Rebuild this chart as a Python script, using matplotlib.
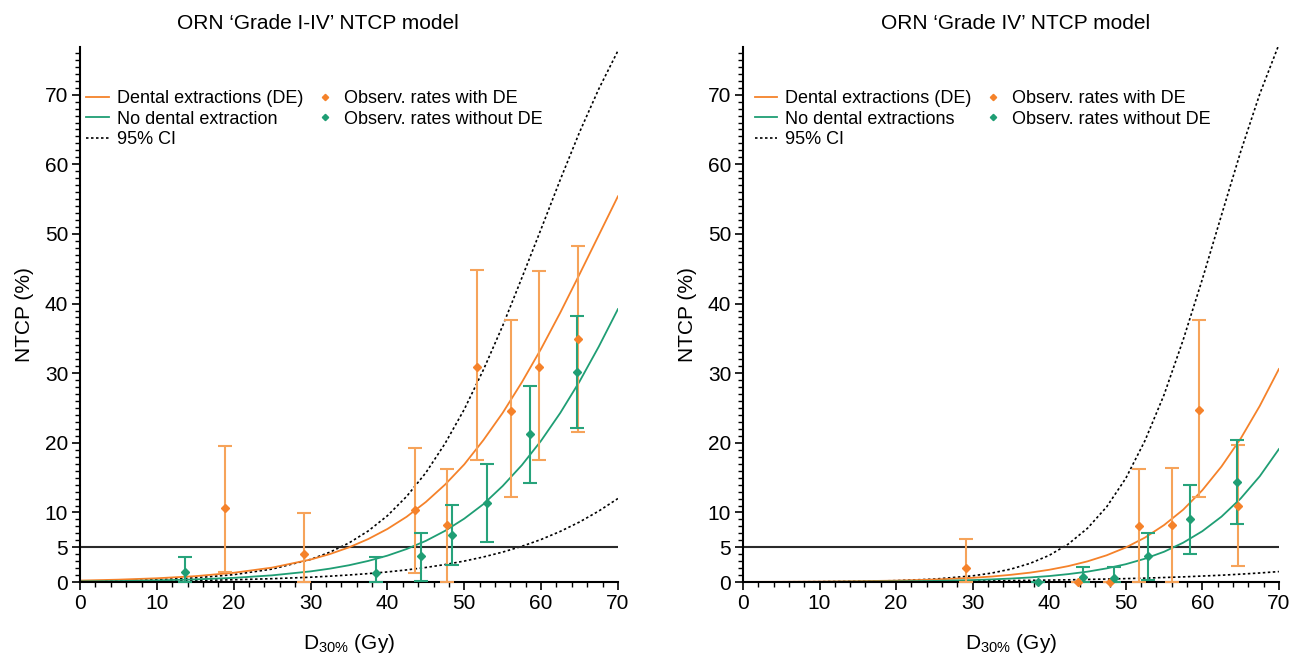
import matplotlib
matplotlib.use('Agg')
import matplotlib.pyplot as plt
from matplotlib.ticker import FixedLocator, MultipleLocator

plt.rcParams['font.family'] = ['Liberation Sans', 'DejaVu Sans']
plt.rcParams['mathtext.default'] = 'regular'

# dose grid (Gy) the model curves were read at
dose = [0, 5, 10, 15, 20, 25, 30, 32.5, 35, 37.5, 40, 42.5, 45, 47.5,
        50, 52.5, 55, 57.5, 60, 62.5, 65, 67.5, 70]

# Grade I-IV model curves (NTCP %)
g14_de = [0.22, 0.35, 0.55, 0.85, 1.34, 2.08, 3.24, 4.02, 4.99, 6.18, 7.63, 9.38,
          11.5, 14.0, 16.9, 20.4, 24.3, 28.7, 33.5, 38.7, 44.2, 49.8, 55.4]
g14_node = [0.10, 0.15, 0.24, 0.39, 0.61, 0.97, 1.54, 1.93, 2.42, 3.04, 3.80, 4.75,
            5.92, 7.36, 9.11, 11.2, 13.8, 16.8, 20.3, 24.3, 28.8, 33.8, 39.2]
g14_ci_hi = [0.11, 0.19, 0.34, 0.61, 1.07, 1.87, 3.26, 4.29, 5.62, 7.34, 9.53, 12.3,
             15.7, 19.9, 24.8, 30.5, 36.8, 43.7, 50.7, 57.8, 64.6, 70.8, 76.3]
g14_ci_lo = [0.08, 0.11, 0.16, 0.23, 0.34, 0.49, 0.70, 0.85, 1.02, 1.22, 1.46, 1.75,
             2.10, 2.52, 3.02, 3.61, 4.31, 5.14, 6.12, 7.28, 8.63, 10.2, 12.0]

# Grade IV model curves (NTCP %)
g4_de = [0.03, 0.04, 0.07, 0.13, 0.21, 0.36, 0.62, 0.80, 1.05, 1.36, 1.77, 2.30,
         2.98, 3.85, 4.97, 6.39, 8.19, 10.4, 13.2, 16.6, 20.6, 25.3, 30.6]
g4_node = [0.01, 0.02, 0.03, 0.06, 0.10, 0.17, 0.29, 0.39, 0.51, 0.67, 0.87, 1.15,
           1.50, 1.97, 2.57, 3.36, 4.36, 5.66, 7.31, 9.40, 12.0, 15.2, 19.1]
g4_ci_hi = [0.01, 0.02, 0.05, 0.10, 0.21, 0.43, 0.90, 1.30, 1.87, 2.69, 3.84, 5.47,
            7.73, 10.8, 14.9, 20.3, 26.9, 34.8, 43.5, 52.7, 61.8, 70.1, 77.2]
g4_ci_lo = [0.03, 0.04, 0.05, 0.07, 0.10, 0.13, 0.17, 0.19, 0.22, 0.25, 0.29, 0.33,
            0.38, 0.44, 0.50, 0.57, 0.66, 0.75, 0.87, 0.99, 1.14, 1.31, 1.51]

# observed rates, Grade I-IV
g14_obs_de_x = [18.9, 29.1, 43.6, 47.8, 51.7, 56.1, 59.7, 64.8]
g14_obs_de_y = [10.6, 4.1, 10.4, 8.2, 30.9, 24.6, 30.9, 34.9]
g14_obs_de_lo = [1.5, 0.0, 1.3, 0.0, 17.6, 12.2, 17.6, 21.6]
g14_obs_de_hi = [19.6, 9.9, 19.3, 16.3, 44.8, 37.6, 44.7, 48.3]

g14_obs_no_x = [13.7, 38.5, 44.4, 48.4, 53.0, 58.5, 64.7]
g14_obs_no_y = [1.5, 1.3, 3.7, 6.8, 11.4, 21.3, 30.2]
g14_obs_no_lo = [0.0, 0.0, 0.2, 2.4, 5.8, 14.2, 22.2]
g14_obs_no_hi = [3.6, 3.6, 7.0, 11.1, 16.9, 28.2, 38.2]

# observed rates, Grade IV
g4_obs_de_x = [29.1, 43.7, 47.9, 51.7, 56.0, 59.6, 64.7]
g4_obs_de_y = [2.0, 0.0, 0.0, 8.1, 8.2, 24.7, 10.9]
g4_obs_de_lo = [0.0, 0.0, 0.0, 0.0, 0.0, 12.2, 2.3]
g4_obs_de_hi = [6.2, 0.0, 0.0, 16.3, 16.4, 37.6, 19.7]

g4_obs_no_x = [38.5, 44.4, 48.4, 52.9, 58.4, 64.5]
g4_obs_no_y = [0.0, 0.7, 0.6, 3.7, 9.0, 14.4]
g4_obs_no_lo = [0.0, 0.0, 0.0, 0.3, 4.0, 8.3]
g4_obs_no_hi = [0.0, 2.1, 2.1, 7.1, 14.0, 20.4]

ORANGE = '#f5822a'
ORANGE_ERR = '#f6a35a'
GREEN = '#1f9e74'
GREEN_ERR = '#27a37b'
DOTS = (0, (1.5, 1.5))


def panel(ax, title, title_x, leg_x, de, node, ci_hi, ci_lo, ode, ono, node_label):
    ax.plot(dose, ci_hi, color='black', lw=1.2, ls=DOTS, label='95% CI')
    ax.plot(dose, ci_lo, color='black', lw=1.2, ls=DOTS)
    ax.axhline(5, color='#2a2a2a', lw=1.5, zorder=2)
    ax.plot(dose, de, color=ORANGE, lw=1.3, label='Dental extractions (DE)')
    ax.plot(dose, node, color=GREEN, lw=1.3, label=node_label)

    for (xs, ys, lo, hi), c, ce, lab in [(ode, ORANGE, ORANGE_ERR, 'Observ. rates with DE'),
                                        (ono, GREEN, GREEN_ERR, 'Observ. rates without DE')]:
        err = [[y - l for y, l in zip(ys, lo)], [h - y for y, h in zip(ys, hi)]]
        eb = ax.errorbar(xs, ys, yerr=err, fmt='none', ecolor=ce, elinewidth=1.5,
                         capsize=5, capthick=1.5, zorder=4)
        for part in eb.lines[1] + eb.lines[2]:
            part.set_clip_on(False)
        ax.plot(xs, ys, 'D', color=c, ms=4, ls='none', label=lab, clip_on=False, zorder=5)

    ax.set_xlim(0, 70)
    ax.set_ylim(0, 76.8)
    ax.yaxis.set_major_locator(FixedLocator([0, 5, 10, 20, 30, 40, 50, 60, 70]))
    ax.yaxis.set_minor_locator(MultipleLocator(1))
    ax.xaxis.set_major_locator(MultipleLocator(10))
    ax.xaxis.set_minor_locator(MultipleLocator(2))
    ax.tick_params(which='major', length=6, width=1.2, labelsize=15, pad=2.5, colors='black')
    ax.tick_params(which='minor', length=3.5, width=1.0)
    for s in ['top', 'right']:
        ax.spines[s].set_visible(False)
    for s in ['left', 'bottom']:
        ax.spines[s].set_linewidth(1.5)
    ax.set_xlabel('D$_{30\\%}$ (Gy)', fontsize=15, labelpad=14)
    ax.set_ylabel('NTCP (%)', fontsize=15, labelpad=8)
    ax.set_title(title, fontsize=15, x=title_x, pad=13)

    handles, labels = ax.get_legend_handles_labels()
    order = ['Dental extractions (DE)', node_label, '95% CI',
             'Observ. rates with DE', 'Observ. rates without DE']
    hs = [handles[labels.index(o)] for o in order]
    ax.legend(hs, order, loc='upper left', bbox_to_anchor=(leg_x, 0.92), ncol=2,
              frameon=False, fontsize=13, handlelength=1.25, handletextpad=0.45,
              labelspacing=0.2, columnspacing=0.55, borderpad=0, borderaxespad=0,
              markerscale=0.8)


fig = plt.figure(figsize=(12.93, 6.57), dpi=100)
ax1 = fig.add_axes([0.0619, 0.114, 0.416, 0.814])
ax2 = fig.add_axes([0.5746, 0.114, 0.4145, 0.814])

panel(ax1, 'ORN \u2018Grade I-IV\u2019 NTCP model', 0.442, 0.012,
      g14_de, g14_node, g14_ci_hi, g14_ci_lo,
      (g14_obs_de_x, g14_obs_de_y, g14_obs_de_lo, g14_obs_de_hi),
      (g14_obs_no_x, g14_obs_no_y, g14_obs_no_lo, g14_obs_no_hi),
      'No dental extraction')
panel(ax2, 'ORN \u2018Grade IV\u2019 NTCP model', 0.509, 0.022,
      g4_de, g4_node, g4_ci_hi, g4_ci_lo,
      (g4_obs_de_x, g4_obs_de_y, g4_obs_de_lo, g4_obs_de_hi),
      (g4_obs_no_x, g4_obs_no_y, g4_obs_no_lo, g4_obs_no_hi),
      'No dental extractions')

fig.savefig('out.png', dpi=100)
